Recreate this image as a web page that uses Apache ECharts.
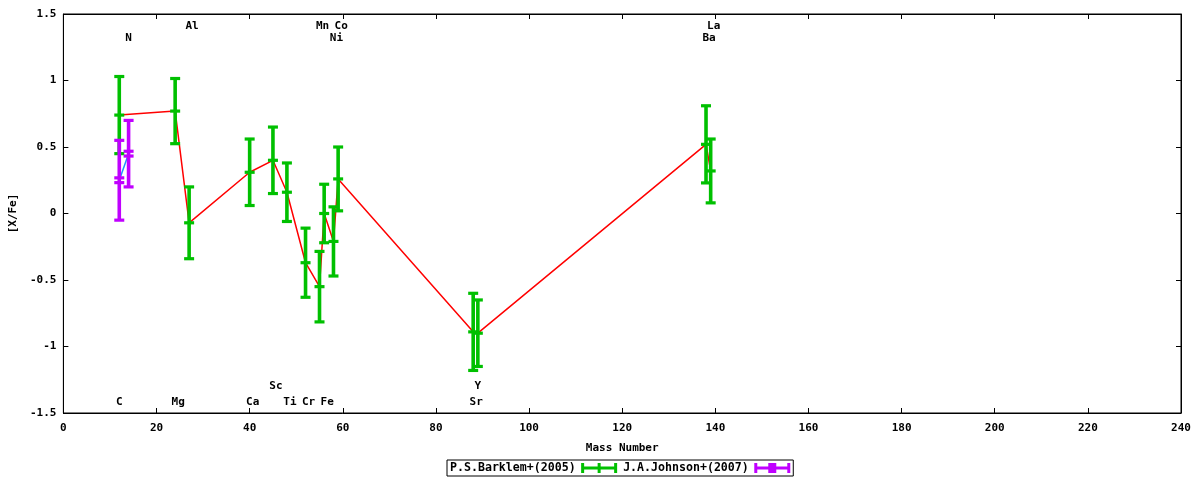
<!DOCTYPE html>
<html>
<head>
<meta charset="utf-8">
<script src="https://cdn.jsdelivr.net/npm/echarts@6/dist/echarts.min.js"></script>
<style>
html,body{margin:0;padding:0;background:#fff;}
#chart{width:1200px;height:480px;}
</style>
</head>
<body>
<div id="chart"></div>
<script>
// ---- data ----
const barklemMass = [12, 24, 27, 40, 45, 48, 52, 55, 56, 58, 59, 88, 89, 138, 139];
const barklemVal  = [0.74, 0.77, -0.07, 0.31, 0.40, 0.16, -0.37, -0.55, 0.00, -0.21, 0.26, -0.89, -0.90, 0.52, 0.32];
const barklemErr  = [0.29, 0.245, 0.27, 0.25, 0.25, 0.22, 0.26, 0.265, 0.22, 0.26, 0.24, 0.29, 0.25, 0.29, 0.24];

const johnsonMass = [12, 14];
const johnsonVal  = [0.25, 0.45];
const johnsonErr  = [0.30, 0.25];

const elemNames = ['C', 'N', 'Mg', 'Al', 'Ca', 'Sc', 'Ti', 'Cr', 'Mn', 'Fe', 'Ni', 'Co', 'Sr', 'Y', 'Ba', 'La'];
const elemMass  = [12, 14, 24, 27, 40, 45, 48, 52, 55, 56, 58, 59, 88, 89, 138, 139];
const elemRow   = ['b2', 't2', 'b2', 't1', 'b2', 'b1', 'b2', 'b2', 't1', 'b2', 't2', 't1', 'b2', 'b1', 't2', 't1'];

const seriesNames = ['P.S.Barklem+(2005)', 'J.A.Johnson+(2007)'];
const xTicks = {min: 0, max: 240, interval: 20};
const yTicks = {min: -1.5, max: 1.5, interval: 0.5};

// ---- styles ----
const GREEN = '#00c000';
const PURPLE = '#c000ff';
const FONTFAM = '"DejaVu Sans Mono", monospace';
const FONT = 'bold 11px ' + FONTFAM;
const rowY = {t1: 1.41, t2: 1.32, b1: -1.30, b2: -1.42};

function zip3(a, b, c) { return a.map((v, i) => [v, b[i], c[i]]); }

function errRender(color, doubleMid) {
  return function (params, api) {
    const x = api.value(0), v = api.value(1), e = api.value(2);
    const top = api.coord([x, v + e]);
    const bot = api.coord([x, v - e]);
    const mid = api.coord([x, v]);
    const hw = 5, th = 3.2, bw = 3.6;
    const cap = (y) => ({type: 'rect', shape: {x: top[0] - hw, y: y - th / 2, width: hw * 2, height: th}, style: {fill: color}});
    const kids = [
      {type: 'rect', shape: {x: top[0] - bw / 2, y: top[1], width: bw, height: bot[1] - top[1]}, style: {fill: color}},
      cap(top[1]), cap(bot[1])
    ];
    if (doubleMid) { kids.push(cap(mid[1] - 2.4)); kids.push(cap(mid[1] + 2.4)); }
    else kids.push(cap(mid[1]));
    return {type: 'group', children: kids};
  };
}

const labelData = elemNames.map((n, i) => [elemMass[i], rowY[elemRow[i]], n]);

const greenIcon = 'path://M0,0h3v10h-3z M16.5,0h3v10h-3z M33,0h3v10h-3z M0,3.5h36v3h-36z';
const purpleIcon = 'path://M0,0h3v10h-3z M14,0h8v10h-8z M33,0h3v10h-3z M0,3.5h36v3h-36z';

const axisCommon = {
  type: 'value',
  axisLine: {show: true, onZero: false, lineStyle: {color: '#000', width: 1}},
  axisTick: {show: true, inside: true, length: 5, lineStyle: {color: '#000'}},
  splitLine: {show: false}
};

const option = {
  animation: false,
  backgroundColor: '#fff',
  grid: {left: 62, right: 19, top: 14, bottom: 67, show: true, borderColor: '#000', borderWidth: 1},
  legend: {
    left: 447, top: 460,
    padding: [2, 3, 2, 3],
    itemGap: 6,
    itemWidth: 37, itemHeight: 10,
    align: 'right',
    borderColor: '#000', borderWidth: 1,
    textStyle: {fontFamily: FONTFAM, fontWeight: 'bold', fontSize: 11.6, color: '#000'},
    data: [
      {name: seriesNames[0], icon: greenIcon, itemStyle: {color: GREEN}},
      {name: seriesNames[1], icon: purpleIcon, itemStyle: {color: PURPLE}}
    ],
    selectedMode: false
  },
  xAxis: [
    Object.assign({}, axisCommon, {
      min: xTicks.min, max: xTicks.max, interval: xTicks.interval,
      name: 'Mass Number', nameLocation: 'middle', nameGap: 30,
      nameTextStyle: {fontFamily: FONTFAM, fontWeight: 'bold', fontSize: 11, color: '#000'},
      axisLabel: {fontFamily: FONTFAM, fontWeight: 'bold', fontSize: 11, color: '#000', margin: 10}
    }),
    Object.assign({}, axisCommon, {
      position: 'top', min: xTicks.min, max: xTicks.max, interval: xTicks.interval,
      axisLabel: {show: false}
    })
  ],
  yAxis: [
    Object.assign({}, axisCommon, {
      min: yTicks.min, max: yTicks.max, interval: yTicks.interval,
      name: '[X/Fe]', nameLocation: 'middle', nameGap: 40, nameRotate: 90,
      nameTextStyle: {fontFamily: FONTFAM, fontWeight: 'bold', fontSize: 11, color: '#000'},
      axisLabel: {fontFamily: FONTFAM, fontWeight: 'bold', fontSize: 11, color: '#000', margin: 7}
    }),
    Object.assign({}, axisCommon, {
      position: 'right', min: yTicks.min, max: yTicks.max, interval: yTicks.interval,
      axisLabel: {show: false}
    })
  ],
  series: [
    {
      name: seriesNames[0] + ' line', type: 'line', z: 1,
      data: barklemMass.map((m, i) => [m, barklemVal[i]]),
      showSymbol: false, symbol: 'none',
      lineStyle: {color: '#ff0000', width: 1.5}
    },
    {
      name: seriesNames[1] + ' line', type: 'line', z: 1,
      data: johnsonMass.map((m, i) => [m, johnsonVal[i]]),
      showSymbol: false, symbol: 'none',
      lineStyle: {color: '#1e90ff', width: 1.5}
    },
    {
      name: seriesNames[0], type: 'custom', z: 3,
      renderItem: errRender(GREEN, false),
      encode: {x: 0, y: 1},
      itemStyle: {color: GREEN},
      data: zip3(barklemMass, barklemVal, barklemErr)
    },
    {
      name: seriesNames[1], type: 'custom', z: 4,
      renderItem: errRender(PURPLE, true),
      encode: {x: 0, y: 1},
      itemStyle: {color: PURPLE},
      data: zip3(johnsonMass, johnsonVal, johnsonErr)
    },
    {
      name: 'labels', type: 'custom', z: 5, silent: true,
      encode: {x: 0, y: 1},
      renderItem: function (params, api) {
        const p = api.coord([api.value(0), api.value(1)]);
        const name = labelData[params.dataIndex][2];
        return {
          type: 'text', x: p[0] + (name.length > 1 ? 3 : 0), y: p[1],
          style: {text: name, align: 'center', verticalAlign: 'middle', font: FONT, fill: '#000'}
        };
      },
      data: labelData
    }
  ]
};

const chart = echarts.init(document.getElementById('chart'), null, {renderer: 'canvas'});
chart.setOption(option);
</script>
</body>
</html>
